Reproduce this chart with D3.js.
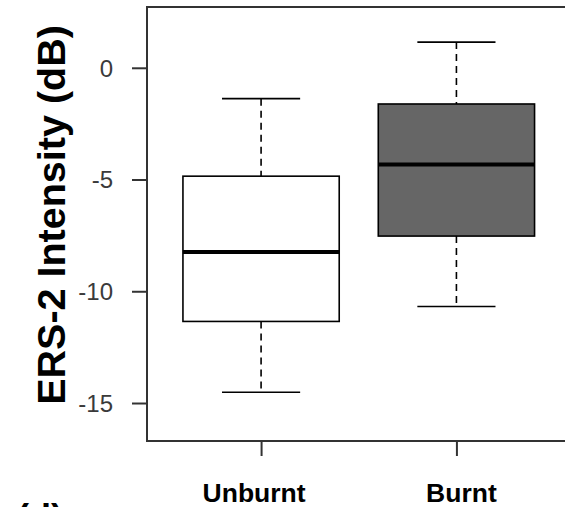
<!DOCTYPE html>
<html>
<head>
<meta charset="utf-8">
<script src="https://cdn.jsdelivr.net/npm/d3@7/dist/d3.min.js"></script>
<style>
  html, body { margin: 0; padding: 0; background: #fff; }
  svg { display: block; }
</style>
</head>
<body>
<script>
const categories = ["Unburnt", "Burnt"];
const lowerWhisker = [-14.52, -10.68];
const q1 = [-11.35, -7.53];
const median = [-8.24, -4.33];
const q3 = [-4.85, -1.62];
const upperWhisker = [-1.38, 1.15];
const boxFills = ["#ffffff", "#666666"];
const yTicks = [0, -5, -10, -15];
const yTitle = "ERS-2 Intensity (dB)";
const panelLabel = "(d)";

(function () {
const W = 565, H = 507;
const svg = d3.select("body").append("svg").attr("width", W).attr("height", H);

const pLeft = 147, pTop = 7, pBottom = 441, pRight = 570.5;
const x = d3.scaleLinear().domain([0.416, 2.584]).range([pLeft, pRight]);
const y = d3.scaleLinear().domain([-16.70, 2.72]).range([pBottom, pTop]);

const frameColor = "#333";
const font = "Liberation Sans, Arial, Helvetica, sans-serif";

// frame
svg.append("rect")
  .attr("x", pLeft).attr("y", pTop)
  .attr("width", pRight - pLeft).attr("height", pBottom - pTop)
  .attr("fill", "none").attr("stroke", frameColor).attr("stroke-width", 2);

// y axis
const yAxis = d3.axisLeft(y).tickValues(yTicks).tickSize(15).tickPadding(19)
  .tickFormat(d => String(d));
const gy = svg.append("g").attr("transform", `translate(${pLeft},0)`).call(yAxis);
gy.select(".domain").remove();
gy.selectAll(".tick line").attr("stroke", frameColor).attr("stroke-width", 2);
gy.selectAll(".tick text").attr("fill", "#3a3a3a")
  .attr("font-family", font).attr("font-size", 24).attr("dy", "0.35em");

// x axis
const xAxis = d3.axisBottom(x).tickValues([1, 2]).tickSize(15).tickFormat(() => "");
const gx = svg.append("g").attr("transform", `translate(0,${pBottom})`).call(xAxis);
gx.select(".domain").remove();
gx.selectAll(".tick line").attr("stroke", frameColor).attr("stroke-width", 2);

const nudge = [-7, 5];
svg.selectAll(".catlabel").data(categories).enter().append("text")
  .attr("class", "catlabel")
  .attr("x", (d, i) => x(i + 1) + nudge[i])
  .attr("y", 502)
  .attr("text-anchor", "middle")
  .attr("font-family", font).attr("font-weight", "bold").attr("font-size", 26.5)
  .attr("fill", "#000")
  .text(d => d);

// y title
svg.append("text")
  .attr("transform", `translate(65,215) rotate(-90)`)
  .attr("text-anchor", "middle")
  .attr("font-family", font).attr("font-weight", "bold").attr("font-size", 39.5)
  .attr("fill", "#000")
  .text(yTitle);

// panel label (cut off at the bottom edge, as in the reference)
svg.append("text")
  .attr("x", 17).attr("y", 530)
  .attr("font-family", font).attr("font-weight", "bold").attr("font-size", 36)
  .attr("fill", "#000")
  .text(panelLabel);

// boxes
const boxHalf = 0.4, capHalf = 0.2;
categories.forEach((c, i) => {
  const cx = i + 1;
  const g = svg.append("g");
  g.append("line")
    .attr("x1", x(cx)).attr("x2", x(cx))
    .attr("y1", y(upperWhisker[i])).attr("y2", y(q3[i]))
    .attr("stroke", "#000").attr("stroke-width", 1.6).attr("stroke-dasharray", "7,5");
  g.append("line")
    .attr("x1", x(cx)).attr("x2", x(cx))
    .attr("y1", y(q1[i])).attr("y2", y(lowerWhisker[i]))
    .attr("stroke", "#000").attr("stroke-width", 1.6).attr("stroke-dasharray", "7,5");
  [upperWhisker[i], lowerWhisker[i]].forEach(v => {
    g.append("line")
      .attr("x1", x(cx - capHalf)).attr("x2", x(cx + capHalf))
      .attr("y1", y(v)).attr("y2", y(v))
      .attr("stroke", "#000").attr("stroke-width", 1.6);
  });
  g.append("rect")
    .attr("x", x(cx - boxHalf)).attr("y", y(q3[i]))
    .attr("width", x(cx + boxHalf) - x(cx - boxHalf))
    .attr("height", y(q1[i]) - y(q3[i]))
    .attr("fill", boxFills[i]).attr("stroke", "#000").attr("stroke-width", 1.6);
  g.append("line")
    .attr("x1", x(cx - boxHalf)).attr("x2", x(cx + boxHalf))
    .attr("y1", y(median[i])).attr("y2", y(median[i]))
    .attr("stroke", "#000").attr("stroke-width", 4);
});
})();
</script>
</body>
</html>
